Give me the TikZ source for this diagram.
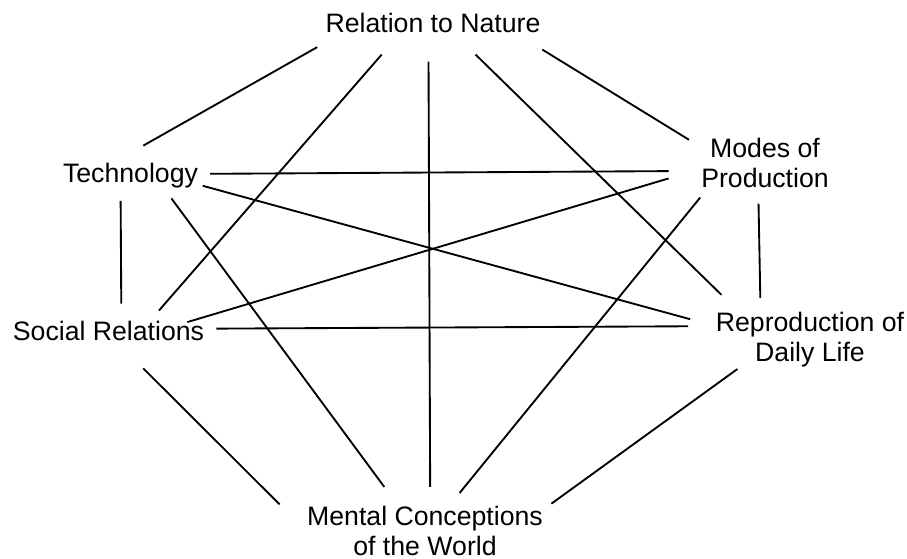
\documentclass[tikz,border=0pt]{standalone}
\usepackage{fontspec}
\setmainfont{Liberation Sans}

\begin{document}
\begin{tikzpicture}[x=0.75pt, y=-0.75pt, topic/.style={font=\fontsize{20}{22.5}\selectfont, align=center}, link/.style={line width=1.4pt}]
            \useasboundingbox (0,0) rectangle (907,558);
            % nodes
            \node[topic, inner xsep=6pt, inner ysep=16.5pt] (nature) at (433,22.5) {Relation to Nature};
            \node[topic, inner xsep=9pt, inner ysep=9.75pt] (tech) at (130.5,175.2) {Technology};
            \node[topic, inner xsep=9pt, inner ysep=9pt] (modes) at (765,163) {Modes of\\Production};
            \node[topic, inner xsep=9pt, inner ysep=10.5pt] (social) at (108.5,330.5) {Social Relations};
            \node[topic, inner xsep=10.5pt, inner ysep=10.5pt] (reprod) at (810,339.5) {Reproduction of\\Daily Life};
            \node[topic, inner xsep=9pt, inner ysep=12.75pt] (mental) at (425,531) {Mental Conceptions\\of the World};
            % edges
            \draw[link, shorten >=5.9pt] (nature.192) -- (tech.77.3);
            \draw[link, shorten >=-4.1pt] (nature.212.7) -- (social.24.8);
            \draw[link, shorten <=5.3pt, shorten >=1.5pt] (nature.262.8) -- (mental.83);
            \draw[link, shorten >=3.2pt] (nature.323.8) -- (reprod.154.8);
            \draw[link, shorten <=-5.7pt] (nature.345.6) -- (modes.163);
            \draw[link, shorten >=15.2pt] (tech.1.6) -- (modes.186);
            \draw[link, shorten <=-5.8pt, shorten >=8.9pt] (tech.351) -- (reprod.171.9);
            \draw[link, shorten <=-2.4pt, shorten >=1.9pt] (tech.329.7) -- (mental.133.9);
            \draw[link, shorten >=2.2pt] (tech.249.5) -- (social.62.1);
            \draw[link, shorten <=-22.7pt, shorten >=15.9pt] (social.9.5) -- (modes.187.5);
            \draw[link, shorten >=10.1pt] (social.1.3) -- (reprod.173.9);
            \draw[link, shorten <=14.7pt, shorten >=16.2pt] (social.311.3) -- (mental.175.7);
            \draw[link, shorten <=-2.4pt, shorten >=-3.9pt] (modes.209.2) -- (mental.48.5);
            \draw[link, shorten <=2.6pt] (modes.260.9) -- (reprod.140.9);
            \draw[link, shorten <=-15.6pt, shorten >=-3.5pt] (reprod.205.5) -- (mental.13.7);
        \end{tikzpicture}
\end{document}
